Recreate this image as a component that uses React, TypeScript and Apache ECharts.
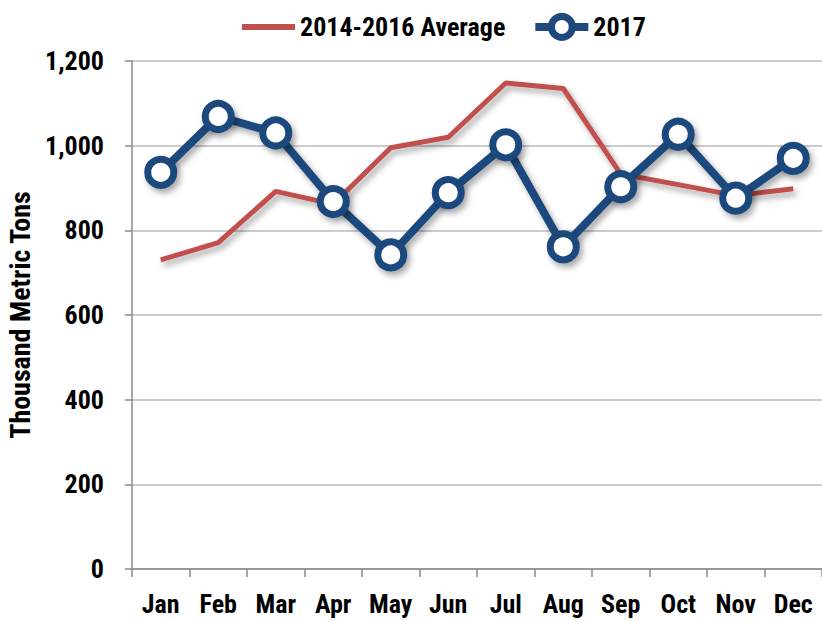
import React, { useEffect, useRef } from "react";
import * as echarts from "echarts";

const months = ["Jan", "Feb", "Mar", "Apr", "May", "Jun", "Jul", "Aug", "Sep", "Oct", "Nov", "Dec"];
const avg2014_2016 = [730, 771, 892, 862, 995, 1020, 1148, 1135, 933, 908, 882, 898];
const y2017 = [937, 1069, 1030, 868, 742, 889, 1002, 761, 903, 1027, 876, 970];
const seriesNames = ["2014-2016 Average", "2017"];
const yAxisTitle = "Thousand Metric Tons";

const FONT = "'Roboto Condensed', 'Open Sans Condensed', sans-serif";
const RED = "#C0504D";
const BLUE = "#1F497D";

export default function App() {
  const ref = useRef<HTMLDivElement>(null);
  useEffect(() => {
    if (!ref.current) return;
    const chart = echarts.init(ref.current, null, { renderer: "svg" });
    const shadow = {
      shadowColor: "rgba(0,0,0,0.35)",
      shadowBlur: 6,
      shadowOffsetX: 3,
      shadowOffsetY: 4,
    };
    const txt = { fontFamily: FONT, fontWeight: "bold" as const, fontSize: 26, color: "#000" };
    chart.setOption({
      animation: false,
      backgroundColor: "#ffffff",
      textStyle: { fontFamily: FONT },
      legend: {
        top: 8,
        left: 234,
        itemWidth: 53,
        itemHeight: 26,
        itemGap: 26,
        textStyle: { ...txt },
        data: [
          { name: seriesNames[0], itemStyle: { opacity: 0 }, lineStyle: { width: 6, color: RED } },
          {
            name: seriesNames[1],
            itemStyle: { color: "#fff", borderColor: BLUE, borderWidth: 7 },
            lineStyle: { width: 8, color: BLUE },
          },
        ],
      },
      grid: { left: 132, right: 0, top: 61, bottom: 52, containLabel: false, outerBoundsMode: "none" },
      xAxis: {
        type: "category",
        data: months,
        boundaryGap: true,
        axisLine: { lineStyle: { color: "#888888", width: 1.5 } },
        axisTick: { show: true, length: 8, interval: 0, lineStyle: { color: "#888888", width: 1.5 } },
        axisLabel: { margin: 22, interval: 0, ...txt },
        splitLine: { show: false },
      },
      yAxis: {
        type: "value",
        min: 0,
        max: 1200,
        interval: 200,
        name: yAxisTitle,
        nameLocation: "middle",
        nameRotate: 90,
        nameGap: 98,
        nameTextStyle: { ...txt, fontSize: 28 },
        axisLine: { show: true, lineStyle: { color: "#888888", width: 1.5 } },
        axisTick: { show: true, length: 7, lineStyle: { color: "#888888", width: 1.5 } },
        axisLabel: {
          margin: 28,
          ...txt,
          formatter: (v: number) => v.toLocaleString("en-US"),
        },
        splitLine: { show: true, lineStyle: { color: "#BBBBBB", width: 1.5 } },
      },
      series: [
        {
          name: seriesNames[0],
          type: "line",
          data: avg2014_2016,
          color: RED,
          showSymbol: false,
          symbol: "none",
          lineStyle: { color: RED, width: 5, ...shadow },
          z: 2,
        },
        {
          name: seriesNames[1],
          type: "line",
          data: y2017,
          color: BLUE,
          symbol: "circle",
          symbolSize: 26,
          lineStyle: { color: BLUE, width: 8, ...shadow },
          itemStyle: { color: "#ffffff", borderColor: BLUE, borderWidth: 7, ...shadow },
          z: 3,
        },
      ],
    });
    return () => chart.dispose();
  }, []);
  return <div ref={ref} style={{ width: 822, height: 621, position: "absolute", left: 0, top: 0 }} />;
}
